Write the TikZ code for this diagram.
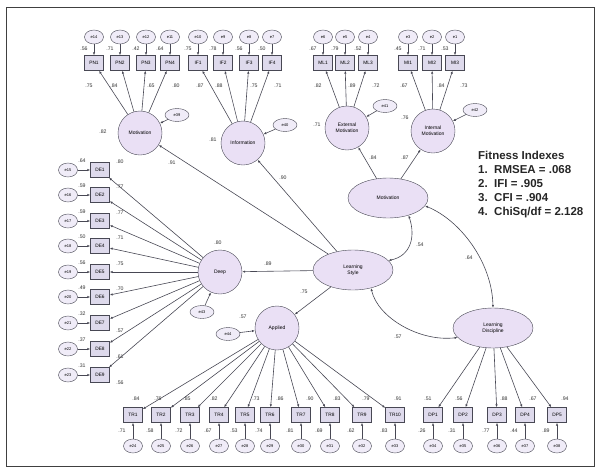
\documentclass[tikz,border=0pt]{standalone}
\usepackage{fontspec}
\setmainfont{Liberation Sans}
\usetikzlibrary{arrows.meta,shapes.geometric}

\definecolor{latfill}{RGB}{234,224,245}
\definecolor{obsfill}{RGB}{222,218,236}
\definecolor{errfill}{RGB}{240,236,248}
\definecolor{edgegray}{RGB}{72,72,84}

\tikzset{
  obs/.style={draw=edgegray,fill=obsfill,minimum width=19pt,minimum height=15pt,inner sep=0pt,font=\fontsize{4.8}{5}\selectfont},
  err/.style={ellipse,draw=edgegray,fill=errfill,minimum width=19pt,minimum height=14pt,inner sep=0pt,font=\fontsize{4}{4}\selectfont},
  dist/.style={err,minimum width=24pt,minimum height=13pt},
  lat/.style={circle,draw=edgegray,fill=latfill,minimum size=44pt,inner sep=0pt,align=center,font=\fontsize{5}{6}\selectfont},
  latell/.style={ellipse,draw=edgegray,fill=latfill,minimum width=80pt,minimum height=40pt,inner sep=0pt,align=center,font=\fontsize{5}{6}\selectfont},
  coef/.style={inner sep=0pt,font=\fontsize{5.2}{5}\selectfont,text=black!80},
  arr/.style={draw=edgegray,line width=0.6pt,-{Latex[length=3pt,width=2.4pt]}},
  corr/.style={draw=edgegray,line width=0.6pt,{Latex[length=3pt,width=2.4pt]}-{Latex[length=3pt,width=2.4pt]}},
}

\begin{document}
\begin{tikzpicture}[x=1pt,y=-1pt]
\useasboundingbox (0,0) rectangle (600,472);
\draw[line width=1pt,black!75] (6,7) rectangle (594,466);

% latent variables
\node[lat] (pnmot) at (140,133) {Motivation};
\node[lat] (info) at (243,143) {Information};
\node[lat] (extm) at (347,128) {External\\Motivation};
\node[lat] (intm) at (433,131) {Internal\\Motivation};
\node[latell] (mot) at (388,198) {Motivation};
\node[latell] (ls) at (353,270) {Learning\\Style};
\node[lat] (deep) at (220,272) {Deep};
\node[lat] (appl) at (277,328) {Applied};
\node[latell] (ld) at (493,328) {Learning\\Discipline};

% disturbances
\node[dist] (dpn) at (177,115) {e39};
\node[dist] (dinfo) at (285,125) {e40};
\node[dist] (dext) at (385,106) {e41};
\node[dist] (dint) at (475,110) {e42};
\node[dist] (ddeep) at (202,312) {e43};
\node[dist] (dappl) at (228,334) {e44};
\draw[arr] (dpn) -- (pnmot);
\draw[arr] (dinfo) -- (info);
\draw[arr] (dext) -- (extm);
\draw[arr] (dint) -- (intm);
\draw[arr] (ddeep) -- (deep);
\draw[arr] (dappl) -- (appl);
\node[coef] at (103,132) {.82};
\node[coef] at (213,140) {.81};
\node[coef] at (317,125) {.71};
\node[coef] at (405,118) {.76};
\node[coef] at (218,243) {.80};
\node[coef] at (243,317) {.57};

% top indicators
\foreach \nm/\tx/\x/\lt/\en/\rs/\ld/\lx in {
  pn1/PN1/94/pnmot/e14/.56/.75/89, pn2/PN2/120/pnmot/e13/.71/.84/114,
  pn3/PN3/146/pnmot/e12/.42/.65/151, pn4/PN4/170/pnmot/e11/.64/.80/176,
  if1/IF1/198/info/e10/.75/.87/200, if2/IF2/223/info/e9/.78/.88/219,
  if3/IF3/249/info/e8/.56/.75/254, if4/IF4/272/info/e7/.50/.71/278,
  ml1/ML1/323/extm/e6/.67/.82/318, ml2/ML2/345/extm/e5/.79/.89/352,
  ml3/ML3/368/extm/e4/.52/.72/376,
  mi1/MI1/408/intm/e3/.45/.67/404, mi2/MI2/432/intm/e2/.71/.84/441,
  mi3/MI3/455/intm/e1/.53/.73/464}{
  \node[obs] (\nm) at (\x,63) {\tx};
  \node[err] (e\nm) at (\x,37) {\en};
  \draw[arr] (e\nm) -- (\nm);
  \draw[arr] (\lt) -- (\nm);
  \node[coef] at (\x-10,49) {\rs};
  \node[coef] at (\lx,86) {\ld};
}

% deep indicators
\foreach \nm/\tx/\y/\en/\rs/\ld/\ly in {
  de1/DE1/170/e15/.64/.80/-8, de2/DE2/195/e16/.59/.77/-8,
  de3/DE3/221/e17/.59/.77/-8, de4/DE4/246/e18/.50/.71/-8,
  de5/DE5/272/e19/.56/.75/-8, de6/DE6/297/e20/.49/.70/-8,
  de7/DE7/323/e21/.32/.57/8, de8/DE8/349/e22/.37/.61/8,
  de9/DE9/375/e23/.31/.56/8}{
  \node[obs] (\nm) at (100,\y) {\tx};
  \node[err] (e\nm) at (68,\y) {\en};
  \draw[arr] (e\nm) -- (\nm);
  \draw[arr] (deep) -- (\nm);
  \node[coef] at (82,\y-9) {\rs};
  \node[coef] at (120,\y+\ly) {\ld};
}

% applied and discipline indicators
\foreach \nm/\tx/\x/\lt/\en/\rs/\ld/\lx in {
  tr1/TR1/133/appl/e24/.71/.84/136, tr2/TR2/161/appl/e25/.58/.76/158,
  tr3/TR3/190/appl/e26/.72/.85/187, tr4/TR4/219/appl/e27/.67/.82/214,
  tr5/TR5/245/appl/e28/.53/.73/256, tr6/TR6/270/appl/e29/.74/.86/280,
  tr7/TR7/301/appl/e30/.81/.90/310, tr8/TR8/330/appl/e31/.69/.83/337,
  tr9/TR9/362/appl/e32/.62/.79/366, tr10/TR10/395/appl/e33/.83/.91/398,
  dp1/DP1/433/ld/e34/.26/.51/428, dp2/DP2/463/ld/e35/.31/.56/459,
  dp3/DP3/497/ld/e36/.77/.88/504, dp4/DP4/525/ld/e37/.44/.67/533,
  dp5/DP5/557/ld/e38/.89/.94/565}{
  \node[obs] (\nm) at (\x,415) {\tx};
  \node[err] (e\nm) at (\x,446) {\en};
  \draw[arr] (e\nm) -- (\nm);
  \draw[arr] (\lt) -- (\nm);
  \node[coef] at (\x-11,431) {\rs};
  \node[coef] at (\lx,399) {\ld};
}

% structural paths
\draw[arr] (ls) -- (pnmot);
\draw[arr] (ls) -- (info);
\draw[arr] (ls) -- (deep);
\draw[arr] (ls) -- (appl);
\draw[arr] (mot) -- (extm);
\draw[arr] (mot) -- (intm);
\node[coef] at (172,163) {.91};
\node[coef] at (283,178) {.90};
\node[coef] at (268,264) {.89};
\node[coef] at (304,292) {.75};
\node[coef] at (373,158) {.84};
\node[coef] at (405,158) {.87};

% correlations
\draw[corr] (mot.-40) .. controls (416,238) and (410,256) .. (ls.15);
\draw[corr] (mot.-12) .. controls (460,220) and (492,262) .. (ld.north);
\draw[corr] (ls.-45) .. controls (378,318) and (420,342) .. (ld.195);
\node[coef] at (420,245) {.54};
\node[coef] at (469,258) {.64};
\node[coef] at (398,337) {.57};

% fit indexes
\node[anchor=west,align=left,inner sep=0pt,font=\bfseries\fontsize{11.5}{14}\selectfont,text=black!85] (fit) at (478,185)
  {Fitness Indexes\\
   \makebox[16pt][l]{1.}RMSEA = .068\\
   \makebox[16pt][l]{2.}IFI = .905\\
   \makebox[16pt][l]{3.}CFI = .904\\
   \makebox[16pt][l]{4.}ChiSq/df = 2.128};
\end{tikzpicture}
\end{document}
